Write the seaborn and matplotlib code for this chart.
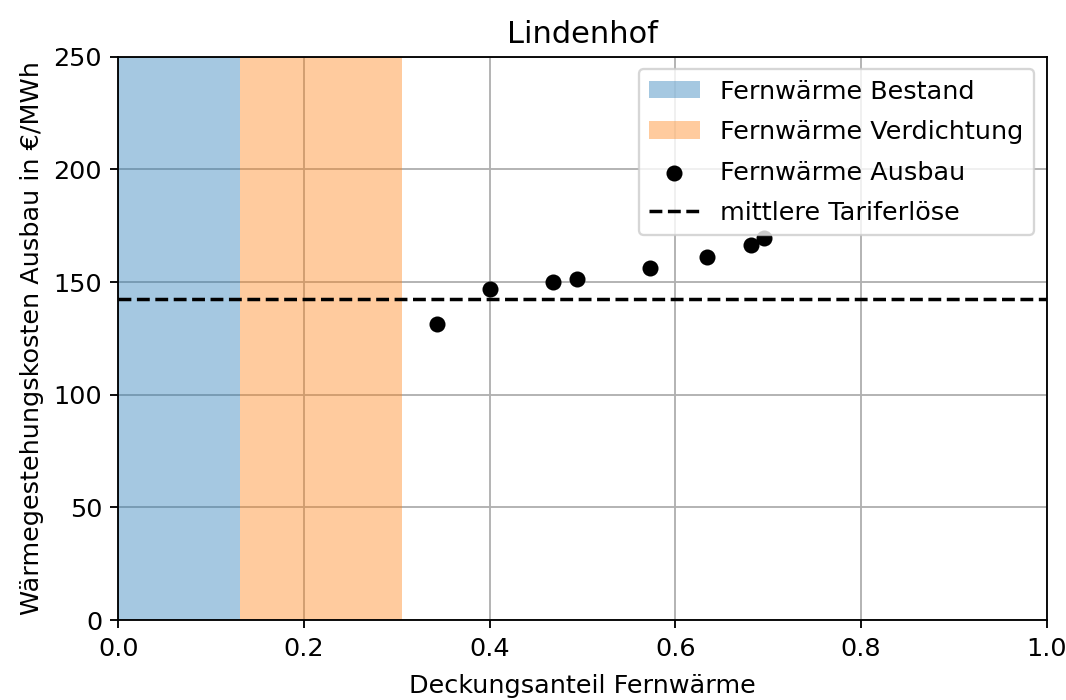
import numpy as np
import pandas as pd
import seaborn as sns
import matplotlib
matplotlib.use("Agg")
import matplotlib.pyplot as plt

plt.rcParams["font.size"] = 11

# Daten
bestand_end = 0.131
verdichtung_end = 0.305
tariferloese = 142.5

deckungsanteil = [0.343, 0.400, 0.468, 0.494, 0.573, 0.634, 0.681, 0.695]
kosten = [131.4, 147.0, 150.2, 151.3, 156.0, 160.9, 166.5, 169.5]

df = pd.DataFrame({"x": deckungsanteil, "y": kosten})

fig, ax = plt.subplots(figsize=(6.4, 4.2), dpi=166.7)
fig.subplots_adjust(left=0.111, right=0.981, top=0.919, bottom=0.114)

ax.axvspan(0, bestand_end, color="tab:blue", alpha=0.4, lw=0, label="Fernwärme Bestand")
ax.axvspan(bestand_end, verdichtung_end, color="tab:orange", alpha=0.4, lw=0, label="Fernwärme Verdichtung")
sns.scatterplot(data=df, x="x", y="y", color="black", s=48, linewidth=0, ax=ax,
                label="Fernwärme Ausbau", zorder=3)
ax.axhline(tariferloese, color="black", ls="--", label="mittlere Tariferlöse")

ax.set_xlim(0, 1)
ax.set_ylim(0, 250)
ax.grid(True)
ax.set_axisbelow(True)
ax.set_title("Lindenhof")
ax.set_xlabel("Deckungsanteil Fernwärme", labelpad=6)
ax.set_ylabel("Wärmegestehungskosten Ausbau in €/MWh")
ax.legend(loc="upper right", labelspacing=0.65)

fig.savefig("out.png", dpi=166.7)
